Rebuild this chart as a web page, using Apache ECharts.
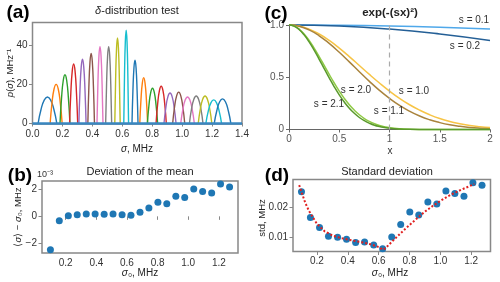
<!DOCTYPE html>
<html><head><meta charset="utf-8">
<script src="https://cdn.jsdelivr.net/npm/echarts@6/dist/echarts.min.js"></script>
<style>html,body{margin:0;padding:0;background:#fff}#c{width:500px;height:282px}</style>
</head><body><div id="c"></div>
<script>
// ---------- data ----------
const sigma0 = [0.100,0.158,0.217,0.275,0.334,0.392,0.451,0.509,0.568,0.626,0.685,0.743,0.802,0.860,0.919,0.977,1.036,1.094,1.153,1.211,1.270];
// panel (a): peak heights & half widths
const peakHeight = [13.5,20.0,25.0,30.5,33.0,36.0,39.5,39.5,44.0,48.0,32.5,23.5,18.0,19.0,15.5,16.0,13.5,14.0,14.0,12.0,12.5];
const peakHalfWidth = [0.062,0.040,0.033,0.027,0.024,0.022,0.020,0.020,0.018,0.016,0.020,0.026,0.034,0.034,0.040,0.040,0.045,0.045,0.045,0.052,0.055];
const bumpProfile = [[-1,0],[-0.7,0.51],[-0.35,0.88],[0,1],[0.35,0.88],[0.7,0.51],[1,0]];
// panel (b): deviation of the mean (x 1e-3 MHz)
const meanDev = [-2.5,-0.33,0.05,0.12,0.18,0.18,0.15,0.18,0.12,0.08,0.3,0.62,1.05,0.95,1.5,1.42,2.05,1.87,1.75,2.42,2.2];
// panel (d): standard deviation (MHz)
const stdDev = [0.0253,0.0166,0.0133,0.0103,0.0100,0.0093,0.0082,0.0084,0.0074,0.0061,0.0101,0.0143,0.0185,0.0175,0.0218,0.0212,0.0255,0.0247,0.0238,0.0283,0.0275];
const fitX = [0.085,0.1,0.125,0.15,0.2,0.25,0.3,0.35,0.4,0.45,0.5,0.55,0.6,0.63,0.65,0.7,0.75,0.8,0.85,0.9,0.95,1.0,1.05,1.1,1.15,1.2,1.22];
const fitY = [0.0275,0.0252,0.0215,0.0187,0.0145,0.0120,0.0106,0.0098,0.0092,0.0087,0.0082,0.0076,0.0067,0.0058,0.0066,0.0092,0.0117,0.0141,0.0164,0.0186,0.0205,0.0222,0.0238,0.0251,0.0263,0.0274,0.0279];
// panel (c): curves
const cxA = [0,0.5,1.0,1.5,2.0];
const s01 = [1,0.9975,0.990,0.978,0.961];
const s02 = [1,0.990,0.961,0.914,0.852];
const cxB = [0,0.1,0.2,0.3,0.4,0.5,0.6,0.7,0.8,0.9,1.0,1.1,1.2,1.3,1.4,1.5,1.6,1.7,1.8,1.9,2.0];
const s10 = [1,0.990,0.961,0.914,0.852,0.779,0.698,0.613,0.527,0.445,0.368,0.298,0.237,0.185,0.141,0.105,0.077,0.056,0.039,0.027,0.018];
const s11 = [1,0.988,0.953,0.897,0.824,0.739,0.647,0.553,0.461,0.375,0.298,0.231,0.175,0.129,0.093,0.066,0.045,0.030,0.020,0.013,0.008];
const cxC = [0,0.05,0.1,0.15,0.2,0.25,0.3,0.35,0.4,0.45,0.5,0.55,0.6,0.65,0.7,0.75,0.8,0.85,0.9,0.95,1.0,1.1,1.2,1.4,1.6,2.0];
const s20 = [1,0.990,0.961,0.914,0.852,0.779,0.698,0.613,0.527,0.445,0.368,0.298,0.237,0.185,0.141,0.105,0.077,0.056,0.039,0.027,0.018,0.008,0.003,0.0004,0,0];
const s21 = [1,0.989,0.957,0.906,0.838,0.759,0.672,0.583,0.494,0.409,0.332,0.263,0.204,0.155,0.115,0.084,0.060,0.041,0.028,0.019,0.012,0.005,0.002,0.0002,0,0];
const sTicksB = [0.2,0.4,0.6,0.8,1.0,1.2];

// ---------- style ----------
const FF = '"Liberation Sans", Arial, sans-serif';
const tab10 = ['#1f77b4','#ff7f0e','#2ca02c','#d62728','#9467bd','#8c564b','#e377c2','#7f7f7f','#bcbd22','#17becf'];
const frame = {show:true, borderColor:'#888', borderWidth:1.5, backgroundColor:'transparent', outerBoundsMode:'none'};
const lbl = {fontSize:10, color:'#333', fontFamily:FF, margin:5};
const tick = {show:true, length:3.5, lineStyle:{color:'#888', width:1}};
const zip = (xs, ys) => xs.map((x,i)=>[x, ys[i]]);

const chart = echarts.init(document.getElementById('c'), null, {renderer:'canvas'});

const peakSeries = sigma0.map((c,k)=>({
  type:'line', xAxisIndex:0, yAxisIndex:0, smooth:0.5, showSymbol:false, silent:true,
  lineStyle:{width:1.4, color:tab10[k%10]}, itemStyle:{color:tab10[k%10]},
  data: bumpProfile.map(p=>[c + p[0]*peakHalfWidth[k], p[1]*peakHeight[k]]),
  markLine: k===sigma0.length-1 ? {silent:true, symbol:'none', label:{show:false},
     lineStyle:{type:'solid', color:'#3a87c0', width:2.5}, data:[{yAxis:0}]} : undefined
}));

function T(x,y,text,opt){
  opt = opt||{};
  return {type:'text', x:x, y:y, rotation:opt.rot||0, silent:true, z:100,
    style:{text:text, fill:opt.color||'#222', align:opt.align||'center', verticalAlign:'middle',
      fontSize:opt.size||11, fontFamily:FF, fontWeight:opt.bold?'bold':'normal',
      rich:{i:{fontStyle:'italic', fontSize:opt.size||11, fontFamily:FF, fill:opt.color||'#222'}}}};
}

const option = {
  animation:false,
  backgroundColor:'#fff',
  grid:[
    Object.assign({left:32.5, top:22.5, width:209.5, height:101.5}, frame),
    Object.assign({left:42, top:181, width:196, height:72}, frame),
    {left:289, top:25, width:201, height:104.5, show:false, outerBoundsMode:'none'},
    Object.assign({left:293, top:179.5, width:197.5, height:72}, frame)
  ],
  xAxis:[
    {type:'value', gridIndex:0, min:0, max:1.4, interval:0.2, axisLine:{show:false}, axisTick:tick, splitLine:{show:false},
      axisLabel:Object.assign({formatter:v=>v.toFixed(1)}, lbl)},
    {type:'value', gridIndex:1, min:0.045, max:1.325, axisLine:{show:false}, splitLine:{show:false},
      axisTick:Object.assign({customValues:sTicksB}, tick),
      axisLabel:Object.assign({customValues:sTicksB, formatter:v=>v.toFixed(1)}, lbl)},
    {type:'value', gridIndex:2, min:0, max:2, interval:0.5, splitLine:{show:false},
      axisLine:{show:true, lineStyle:{color:'#666', width:1}}, axisTick:{show:true, length:3, lineStyle:{color:'#666'}},
      axisLabel:Object.assign({}, lbl, {color:'#555'})},
    {type:'value', gridIndex:3, min:0.045, max:1.325, axisLine:{show:false}, splitLine:{show:false},
      axisTick:Object.assign({customValues:sTicksB}, tick),
      axisLabel:Object.assign({customValues:sTicksB, formatter:v=>v.toFixed(1)}, lbl)}
  ],
  yAxis:[
    {type:'value', gridIndex:0, min:-0.5, max:52, axisLine:{show:false}, splitLine:{show:false},
      axisTick:Object.assign({customValues:[0,20,40]}, tick),
      axisLabel:Object.assign({customValues:[0,20,40]}, lbl)},
    {type:'value', gridIndex:1, min:-2.75, max:2.65, axisLine:{show:false}, splitLine:{show:false},
      axisTick:Object.assign({customValues:[-2,0,2]}, tick),
      axisLabel:Object.assign({customValues:[-2,0,2], formatter:v=>v<0?'\u2212'+Math.abs(v):String(v)}, lbl)},
    {type:'value', gridIndex:2, min:0, max:1, interval:0.5, splitLine:{show:false},
      axisLine:{show:true, lineStyle:{color:'#666', width:1}}, axisTick:{show:true, length:3, lineStyle:{color:'#666'}},
      axisLabel:Object.assign({}, lbl, {color:'#555', formatter:v=>v===1?'1.0':String(v)})},
    {type:'value', gridIndex:3, min:0.0052, max:0.0294, axisLine:{show:false}, splitLine:{show:false},
      axisTick:Object.assign({customValues:[0.01,0.02]}, tick),
      axisLabel:Object.assign({customValues:[0.01,0.02], formatter:v=>v.toFixed(2)}, lbl)}
  ],
  series:[
    ...peakSeries,
    {type:'scatter', xAxisIndex:1, yAxisIndex:1, symbolSize:7, itemStyle:{color:'#1f77b4', opacity:1}, data:zip(sigma0, meanDev)},
    {type:'line', xAxisIndex:2, yAxisIndex:2, smooth:true, showSymbol:false, clip:false, lineStyle:{width:1.5, color:'#4fa8ea'}, data:zip(cxA, s01)},
    {type:'line', xAxisIndex:2, yAxisIndex:2, smooth:true, showSymbol:false, clip:false, lineStyle:{width:1.5, color:'#245f96'}, data:zip(cxA, s02)},
    {type:'line', xAxisIndex:2, yAxisIndex:2, smooth:true, showSymbol:false, clip:false, lineStyle:{width:1.5, color:'#f7c445'}, data:zip(cxB, s10)},
    {type:'line', xAxisIndex:2, yAxisIndex:2, smooth:true, showSymbol:false, clip:false, lineStyle:{width:1.5, color:'#a9833c'}, data:zip(cxB, s11)},
    {type:'line', xAxisIndex:2, yAxisIndex:2, smooth:true, showSymbol:false, clip:false, lineStyle:{width:1.5, color:'#8fca45'}, data:zip(cxC, s20)},
    {type:'line', xAxisIndex:2, yAxisIndex:2, smooth:true, showSymbol:false, clip:false, lineStyle:{width:1.5, color:'#5a9a2c'}, data:zip(cxC, s21),
      markLine:{silent:true, symbol:'none', label:{show:false}, lineStyle:{type:[5,4], color:'#aaa', width:1.2}, data:[{xAxis:1}]}},
    {type:'scatter', xAxisIndex:3, yAxisIndex:3, symbolSize:7, itemStyle:{color:'#1f77b4', opacity:1}, data:zip(sigma0, stdDev)},
    {type:'line', xAxisIndex:3, yAxisIndex:3, showSymbol:false, z:5, lineStyle:{width:2, color:'#e02020', type:[2,2]}, data:zip(fitX, fitY)}
  ],
  graphic:[
    T(18,13,'(a)',{size:19,bold:true,color:'#000'}),
    T(137,11,'{i|δ}-distribution test'),
    T(10,73,'{i|p}({i|σ}), MHz\u207B\u00B9',{rot:Math.PI/2,size:9.5}),
    T(137,149,'{i|σ}, MHz',{size:10}),
    T(276,14,'(c)',{size:19,bold:true,color:'#000'}),
    T(390,13,'exp(-(sx)\u00B2)',{bold:true,size:11.5}),
    T(390,151,'x',{size:10,color:'#333'}),
    T(474,20,'s = 0.1',{size:10,color:'#333'}),
    T(465,46,'s = 0.2',{size:10,color:'#333'}),
    T(414,91,'s = 1.0',{size:10,color:'#333'}),
    T(389,111,'s = 1.1',{size:10,color:'#333'}),
    T(356,90,'s = 2.0',{size:10,color:'#333'}),
    T(329,104,'s = 2.1',{size:10,color:'#333'}),
    T(20,176,'(b)',{size:19,bold:true,color:'#000'}),
    T(37,175,'10\u207B\u00B3',{size:9,color:'#333',align:'left'}),
    T(140,172,'Deviation of the mean'),
    T(18,217,'\u27E8{i|σ}\u27E9 \u2212 {i|σ}\u2080, MHz',{rot:Math.PI/2,size:9.5}),
    T(140,273,'{i|σ}\u2080, MHz',{size:10}),
    T(277,176,'(d)',{size:19,bold:true,color:'#000'}),
    T(387,172,'Standard deviation'),
    T(262,218,'std, MHz',{rot:Math.PI/2,size:9.5}),
    T(390,273,'{i|σ}\u2080, MHz',{size:10})
  ]
};
chart.setOption(option);
</script>
</body></html>
